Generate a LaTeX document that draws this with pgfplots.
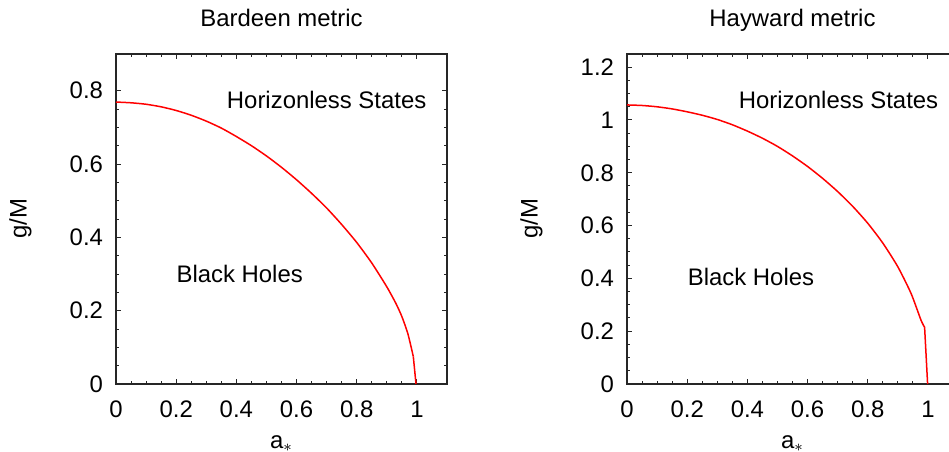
\documentclass[border=0pt]{standalone}
\usepackage{fontspec}
\setmainfont{Liberation Sans}
\usepackage{pgfplots}
\pgfplotsset{compat=1.18}

\pgfplotstableread{
a g
0     0.769
0.05  0.767
0.1   0.763
0.15  0.756
0.2   0.746
0.25  0.733
0.3   0.717
0.35  0.698
0.4   0.675
0.45  0.650
0.5   0.622
0.55  0.591
0.6   0.557
0.65  0.520
0.7   0.480
0.75  0.435
0.8   0.386
0.85  0.330
0.9   0.265
0.93  0.220
0.95  0.184
0.97  0.137
0.988 0.075
}\bardeen

\pgfplotstableread{
a g
0.988 0.075
0.997 0
}\bardeenend

\pgfplotstableread{
a g
0     1.057
0.05  1.055
0.1   1.050
0.15  1.042
0.2   1.031
0.25  1.018
0.3   1.002
0.35  0.982
0.4   0.958
0.45  0.931
0.5   0.900
0.55  0.864
0.6   0.824
0.65  0.779
0.7   0.729
0.75  0.673
0.8   0.609
0.85  0.534
0.9   0.444
0.944 0.343
0.977 0.242
0.989 0.215
}\hayward

\pgfplotstableread{
a g
0.989 0.215
0.999 0
}\haywardend

\pgfplotsset{
  every axis title shift=0pt,
  myax/.style={
    width=165.5bp, height=165bp, scale only axis,
    xmin=0, xmax=1.1, ymin=0,
    xtick={0,0.2,0.4,0.6,0.8,1},
    minor tick num=3,
    tick align=inside,
    major tick length=2.5bp, minor tick length=1.5bp,
    axis line style={line width=0.6bp, black!85},
    every tick/.style={black!85, line width=0.5bp},
    /pgf/number format/assume math mode=true,
    xticklabel style={yshift=-5bp},
    yticklabel style={xshift=-3bp},
    title style={at={(axis description cs:0.5,1.082)}, anchor=base, yshift=0pt},
    xlabel style={at={(axis description cs:0.5,-0.194)}, anchor=base},
    ylabel style={at={(axis description cs:-0.27,0.5)}, anchor=base},
    xlabel={a$_{\ast}$}, ylabel={g/M},
    clip=false,
  }
}

\begin{document}
\begin{tikzpicture}[font=\fontsize{12}{14}\selectfont]
\begin{axis}[myax, at={(58bp,34bp)}, anchor=south west,
  ymax=0.9, ytick={0,0.2,0.4,0.6,0.8},
  title={Bardeen metric}]
  \addplot[red, line width=0.75bp, smooth, tension=0.4] table[x=a, y=g] {\bardeen};
  \addplot[red, line width=0.75bp] table[x=a, y=g] {\bardeenend};
  \node[anchor=base] at (axis cs:0.70,0.751) {Horizonless States};
  \node[anchor=base] at (axis cs:0.411,0.277) {Black Holes};
\end{axis}
\begin{axis}[myax, at={(313.5bp,34bp)}, anchor=south west,
  ymax=1.25, ytick={0,0.2,0.4,0.6,0.8,1,1.2},
  title={Hayward metric}]
  \addplot[red, line width=0.75bp, smooth, tension=0.4] table[x=a, y=g] {\hayward};
  \addplot[red, line width=0.75bp] table[x=a, y=g] {\haywardend};
  \node[anchor=base] at (axis cs:0.703,1.044) {Horizonless States};
  \node[anchor=base] at (axis cs:0.412,0.373) {Black Holes};
\end{axis}
\pgfresetboundingbox
\path[use as bounding box] (0,0) rectangle (474.5bp,226bp);
\end{tikzpicture}
\end{document}
